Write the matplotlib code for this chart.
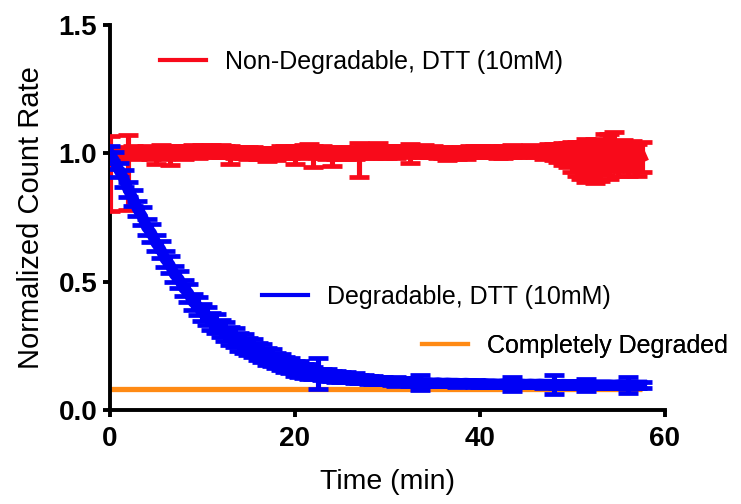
"""Normalized count rate of degradable vs non-degradable samples in DTT."""

import matplotlib
matplotlib.use("Agg")
import matplotlib.pyplot as plt
from matplotlib.lines import Line2D
import numpy as np

plt.rcParams["font.family"] = ["Liberation Sans", "DejaVu Sans"]

# one reading every 0.5 min, 0 .. 57.5 min (116 readings)
TIME_STEP_MIN = 0.5
N_POINTS = 116

# Non-Degradable, DTT (10mM): mean and lower / upper error
red_mean = [
    1.000, 1.004, 0.997, 1.002, 1.000, 1.006, 0.999, 1.003, 1.008, 1.001,
    1.004, 1.009, 1.002, 0.998, 1.006, 1.010, 1.003, 1.007, 1.011, 1.005,
    1.009, 1.004, 1.012, 1.006, 1.010, 1.003, 1.008, 1.002, 1.006, 1.004,
    1.000, 1.005, 0.998, 1.003, 0.996, 1.001, 0.997, 1.004, 1.006, 1.002,
    1.008, 1.003, 1.011, 1.006, 1.009, 1.002, 1.005, 0.999, 1.004, 1.000,
    1.003, 0.998, 1.005, 1.001, 1.006, 1.002, 1.008, 1.004, 1.010, 1.006,
    1.003, 1.008, 1.005, 1.010, 1.007, 1.012, 1.009, 1.004, 1.008, 1.003,
    1.006, 1.001, 1.004, 0.999, 1.003, 1.000, 1.004, 1.002, 1.006, 1.003,
    1.007, 1.004, 1.009, 1.006, 1.002, 1.007, 1.004, 1.008, 1.005, 1.010,
    1.007, 1.011, 1.006, 1.009, 1.004, 1.008, 1.003, 1.000, 0.996, 0.990,
    0.984, 0.978, 0.975, 0.980, 0.972, 0.985, 0.976, 0.990, 0.982, 1.000,
    0.985, 0.996, 0.980, 0.992, 0.978, 0.986,
]
red_err_lo = [
    0.225, 0.018, 0.022, 0.020, 0.220, 0.024, 0.020, 0.022, 0.018, 0.021,
    0.045, 0.020, 0.024, 0.045, 0.022, 0.019, 0.023, 0.021, 0.020, 0.024,
    0.021, 0.018, 0.022, 0.020, 0.024, 0.019, 0.048, 0.021, 0.018, 0.022,
    0.020, 0.023, 0.019, 0.021, 0.024, 0.020, 0.022, 0.019, 0.023, 0.021,
    0.050, 0.020, 0.024, 0.021, 0.062, 0.020, 0.023, 0.021, 0.052, 0.020,
    0.022, 0.019, 0.023, 0.021, 0.100, 0.020, 0.024, 0.022, 0.019, 0.023,
    0.021, 0.020, 0.024, 0.019, 0.022, 0.048, 0.021, 0.020, 0.023, 0.019,
    0.022, 0.020, 0.021, 0.023, 0.019, 0.022, 0.020, 0.024, 0.021, 0.019,
    0.023, 0.020, 0.022, 0.019, 0.021, 0.024, 0.020, 0.022, 0.019, 0.021,
    0.020, 0.023, 0.021, 0.019, 0.024, 0.022, 0.030, 0.035, 0.040, 0.045,
    0.055, 0.065, 0.075, 0.090, 0.080, 0.100, 0.085, 0.075, 0.080, 0.070,
    0.075, 0.065, 0.070, 0.060, 0.065, 0.060,
]
red_err_hi = [
    0.066, 0.020, 0.022, 0.018, 0.070, 0.021, 0.019, 0.023, 0.020, 0.022,
    0.019, 0.022, 0.020, 0.024, 0.021, 0.019, 0.023, 0.020, 0.022, 0.018,
    0.022, 0.020, 0.019, 0.023, 0.021, 0.024, 0.020, 0.022, 0.019, 0.021,
    0.023, 0.020, 0.022, 0.019, 0.024, 0.021, 0.020, 0.023, 0.021, 0.019,
    0.022, 0.024, 0.020, 0.032, 0.021, 0.019, 0.023, 0.020, 0.022, 0.021,
    0.020, 0.023, 0.021, 0.019, 0.035, 0.022, 0.020, 0.024, 0.032, 0.021,
    0.022, 0.019, 0.023, 0.020, 0.022, 0.024, 0.021, 0.019, 0.023, 0.020,
    0.021, 0.024, 0.020, 0.022, 0.019, 0.023, 0.021, 0.020, 0.022, 0.024,
    0.020, 0.022, 0.019, 0.023, 0.021, 0.020, 0.022, 0.024, 0.021, 0.019,
    0.022, 0.020, 0.023, 0.021, 0.025, 0.030, 0.034, 0.038, 0.045, 0.050,
    0.060, 0.065, 0.070, 0.075, 0.080, 0.072, 0.068, 0.085, 0.095, 0.085,
    0.062, 0.058, 0.066, 0.055, 0.060, 0.058,
]

# Degradable, DTT (10mM): mean and symmetric error
blue_mean = [
    1.000, 0.972, 0.935, 0.903, 0.858, 0.826, 0.784, 0.756, 0.712, 0.690,
    0.651, 0.626, 0.588, 0.566, 0.528, 0.509, 0.474, 0.456, 0.421, 0.405,
    0.379, 0.366, 0.346, 0.336, 0.316, 0.305, 0.289, 0.282, 0.266, 0.259,
    0.246, 0.240, 0.226, 0.221, 0.208, 0.203, 0.192, 0.186, 0.176, 0.172,
    0.162, 0.159, 0.152, 0.149, 0.143, 0.141, 0.137, 0.135, 0.132, 0.131,
    0.128, 0.127, 0.124, 0.124, 0.121, 0.120, 0.117, 0.117, 0.114, 0.114,
    0.112, 0.111, 0.110, 0.109, 0.108, 0.108, 0.106, 0.107, 0.105, 0.105,
    0.104, 0.105, 0.103, 0.104, 0.103, 0.103, 0.102, 0.103, 0.102, 0.102,
    0.101, 0.102, 0.101, 0.101, 0.100, 0.101, 0.100, 0.101, 0.100, 0.100,
    0.099, 0.100, 0.099, 0.100, 0.099, 0.099, 0.099, 0.098, 0.099, 0.098,
    0.098, 0.098, 0.098, 0.097, 0.098, 0.097, 0.097, 0.097, 0.097, 0.096,
    0.097, 0.096, 0.096, 0.096, 0.096, 0.096,
]
blue_err = [
    0.030, 0.032, 0.028, 0.034, 0.030, 0.033, 0.029, 0.035, 0.031, 0.034,
    0.031, 0.033, 0.030, 0.034, 0.031, 0.034, 0.032, 0.035, 0.032, 0.035,
    0.033, 0.036, 0.033, 0.037, 0.034, 0.038, 0.035, 0.038, 0.035, 0.037,
    0.034, 0.036, 0.033, 0.035, 0.032, 0.033, 0.030, 0.031, 0.028, 0.029,
    0.030, 0.032, 0.027, 0.028, 0.024, 0.060, 0.022, 0.023, 0.020, 0.021,
    0.018, 0.019, 0.017, 0.018, 0.016, 0.017, 0.015, 0.016, 0.014, 0.015,
    0.013, 0.014, 0.018, 0.013, 0.012, 0.014, 0.012, 0.030, 0.012, 0.013,
    0.012, 0.013, 0.011, 0.013, 0.012, 0.013, 0.011, 0.012, 0.011, 0.013,
    0.012, 0.011, 0.013, 0.012, 0.011, 0.013, 0.012, 0.026, 0.011, 0.012,
    0.011, 0.013, 0.012, 0.011, 0.013, 0.012, 0.038, 0.012, 0.011, 0.013,
    0.012, 0.011, 0.013, 0.022, 0.012, 0.011, 0.013, 0.012, 0.011, 0.013,
    0.012, 0.013, 0.030, 0.012, 0.011, 0.012,
]

# Completely Degraded: flat reference level over the run
degraded_time = [0.0, 57.5]
degraded_level = [0.08, 0.08]

x_ticks = [0, 20, 40, 60]
y_ticks = [0.0, 0.5, 1.0, 1.5]
y_tick_labels = ["0.0", "0.5", "1.0", "1.5"]

series_labels = [
    "Non-Degradable, DTT (10mM)",
    "Degradable, DTT (10mM)",
    "Completely Degraded",
]

RED = "#F80A1A"
BLUE = "#0000F5"
ORANGE = "#FF8A14"


def add_legend(ax, color, label, anchor):
    handle = Line2D([], [], color=color, lw=3.0)
    legend = ax.legend(
        [handle], [label],
        loc="center left",
        bbox_to_anchor=anchor,
        frameon=False,
        fontsize=18,
        handlelength=1.85,
        handletextpad=0.75,
        borderpad=0,
        borderaxespad=0,
    )
    ax.add_artist(legend)


def draw_series(ax, mean, err, color, zorder):
    ax.errorbar(TIME_STEP_MIN * np.arange(N_POINTS), mean, yerr=err,
                color=color, lw=8, elinewidth=3.7, capsize=7,
                capthick=3.4, zorder=zorder)


def main():
    fig = plt.figure(figsize=(7.41, 5.04), dpi=100)
    ax = fig.add_axes([0.148, 0.187, 0.749, 0.763])

    ax.plot(degraded_time, degraded_level, color=ORANGE, lw=3.8,
            solid_capstyle="butt", zorder=2)
    draw_series(ax, red_mean, [red_err_lo, red_err_hi], RED, 3)
    draw_series(ax, blue_mean, blue_err, BLUE, 4)

    ax.set_xlim(0, 60)
    ax.set_ylim(0, 1.5)
    ax.set_xticks(x_ticks, [str(t) for t in x_ticks], fontweight="bold")
    ax.set_yticks(y_ticks, y_tick_labels, fontweight="bold")
    ax.tick_params(direction="out", length=5, width=2.8, labelsize=20)
    ax.tick_params(axis="x", pad=7)
    ax.tick_params(axis="y", pad=4)
    for side in ("top", "right"):
        ax.spines[side].set_visible(False)
    for side in ("left", "bottom"):
        ax.spines[side].set_linewidth(2.8)

    ax.set_xlabel("Time (min)", fontsize=20.5, labelpad=12)
    ax.set_ylabel("Normalized Count Rate", fontsize=21, labelpad=10)

    add_legend(ax, RED, series_labels[0], (0.09, 0.904))
    add_legend(ax, BLUE, series_labels[1], (0.274, 0.294))
    add_legend(ax, ORANGE, series_labels[2], (0.562, 0.166))

    fig.savefig("out.png", dpi=100)
    plt.close(fig)


if __name__ == "__main__":
    main()
